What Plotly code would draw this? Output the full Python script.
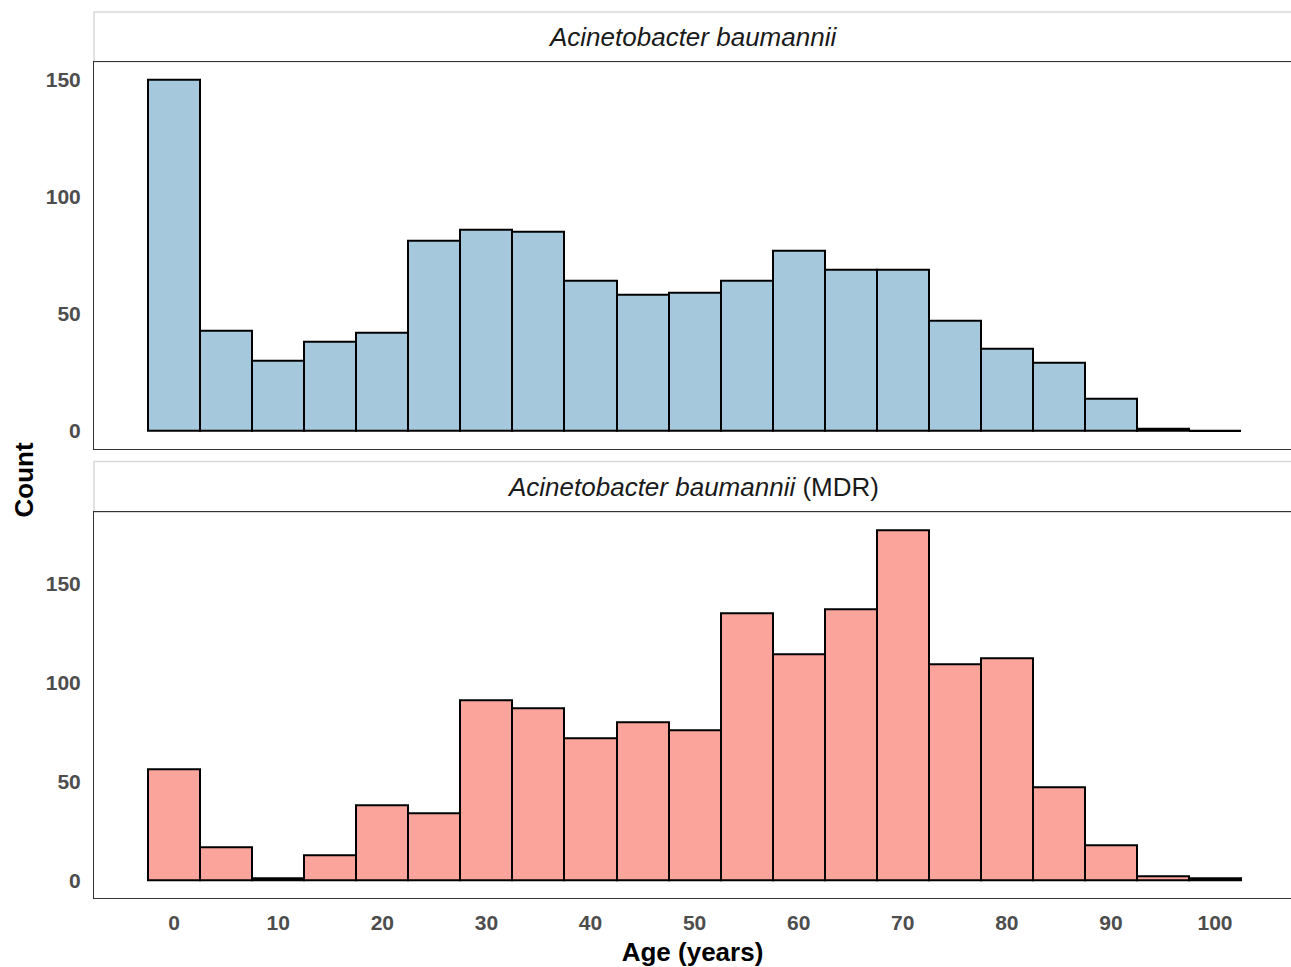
import plotly.graph_objects as go

# Data: age bins (centers, width 5) and counts
age_bins = [0, 5, 10, 15, 20, 25, 30, 35, 40, 45, 50, 55, 60, 65, 70, 75, 80, 85, 90, 95, 100]
counts_ab = [150, 43, 30, 38, 42, 81, 86, 85, 64, 58, 59, 64, 77, 69, 69, 47, 35, 29, 14, 1, 0]
counts_mdr = [56, 17, 1, 13, 38, 34, 91, 87, 72, 80, 76, 135, 114, 137, 177, 109, 112, 47, 18, 2, 1]
x_ticks = [0, 10, 20, 30, 40, 50, 60, 70, 80, 90, 100]
y_ticks = [0, 50, 100, 150]
panel_titles = ["<i>Acinetobacter baumannii</i>", "<i>Acinetobacter baumannii</i> (MDR)"]

BIN_W = 5
W, H = 1291, 967
FONT = "Liberation Sans, Arial, sans-serif"

def py(px):
    return 1 - px / H

fig = go.Figure()

panels = [
    dict(counts=counts_ab, color="#A6C8DC", xa="x", ya="y", yr=[-7.5, 157.5]),
    dict(counts=counts_mdr, color="#FBA49B", xa="x2", ya="y2", yr=[-8.85, 185.85]),
]

for p in panels:
    fig.add_trace(go.Bar(
        x=age_bins, y=p["counts"], width=BIN_W,
        marker=dict(color=p["color"], line=dict(color="black", width=2)),
        xaxis=p["xa"], yaxis=p["ya"], showlegend=False, hoverinfo="x+y",
    ))
    # zero-count bins drawn as flat outlines (as in ggplot)
    zx, zy = [], []
    for c, v in zip(age_bins, p["counts"]):
        if v == 0:
            zx += [c - BIN_W / 2, c + BIN_W / 2, None]
            zy += [0, 0, None]
    if zx:
        fig.add_trace(go.Scatter(x=zx, y=zy, mode="lines",
                                 line=dict(color="black", width=2),
                                 xaxis=p["xa"], yaxis=p["ya"],
                                 showlegend=False, hoverinfo="skip"))

x0 = 94 / W
xr = [-7.7, 107.3]
axis_line = "#333333"
tickfont = dict(family=FONT, size=21, color="#4D4D4D", weight="bold")

common_x = dict(range=xr, domain=[x0, 1], showgrid=False, zeroline=False,
                showline=True, linecolor=axis_line, linewidth=1, mirror=True,
                tickvals=x_ticks, ticks="", tickfont=tickfont)
common_y = dict(showgrid=False, zeroline=False, showline=True, linecolor=axis_line,
                linewidth=1, mirror=False, tickvals=y_ticks, ticks="",
                tickfont=tickfont, ticklabelstandoff=8)

fig.update_layout(
    width=W, height=H, autosize=False,
    margin=dict(l=0, r=0, t=0, b=0),
    paper_bgcolor="white", plot_bgcolor="white",
    bargap=0,
    font=dict(family=FONT),
    xaxis=dict(common_x, anchor="y", showticklabels=False),
    yaxis=dict(common_y, domain=[py(451), py(62)], range=panels[0]["yr"], anchor="x"),
    xaxis2=dict(common_x, anchor="y2", ticklabelstandoff=5,
                title=dict(text="<b>Age (years)</b>", font=dict(family=FONT, size=26, color="black"), standoff=15)),
    yaxis2=dict(common_y, domain=[py(903), py(515)], range=panels[1]["yr"], anchor="x2"),
)

# strips
strips = [(12, 62), (464, 515)]
for (top, bot), title in zip(strips, panel_titles):
    fig.add_shape(type="rect", xref="paper", yref="paper", x0=x0, x1=1.002,
                  y0=py(bot), y1=py(top), fillcolor="white",
                  line=dict(color="#D9D9D9", width=1.5), layer="below")
    fig.add_annotation(xref="paper", yref="paper", x=(x0 + 1) / 2, y=(py(top) + py(bot)) / 2,
                       text=title, showarrow=False, xanchor="center", yanchor="middle",
                       font=dict(family=FONT, size=26, color="#1A1A1A"))

# shared y title
fig.add_annotation(xref="paper", yref="paper", x=24 / W, y=py(482), text="<b>Count</b>",
                   textangle=-90, showarrow=False, xanchor="center", yanchor="middle",
                   font=dict(family=FONT, size=26, color="black"))

fig.write_html("out.html", config={"displayModeBar": False},
               post_script="document.body.style.margin='0';document.body.style.overflow='hidden';")
